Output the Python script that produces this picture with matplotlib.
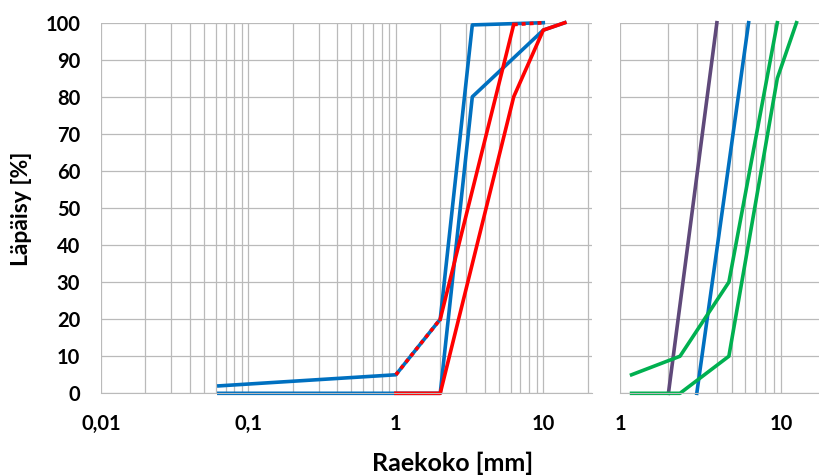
import numpy as np
import matplotlib
matplotlib.use("Agg")
import matplotlib.pyplot as plt
from matplotlib.ticker import LogLocator, FixedLocator, FixedFormatter, NullFormatter

# Rakeisuuskäyrät, vasen kuva
blue_a_x = [0.063, 1, 2, 3.3, 10]
blue_a_y = [2, 5, 20, 99.4, 100]
blue_b_x = [0.063, 1, 2, 3.3, 10, 14]
blue_b_y = [0, 0, 0, 80, 98, 100]
red_a_x = [1, 2, 6.3, 10]
red_a_y = [5, 20, 99.5, 100]
red_b_x = [1, 2, 6.3, 10, 14]
red_b_y = [0, 0, 80, 98, 100]

# Oikea kuva
purple_x = [2, 4]
purple_y = [0, 100]
blue_c_x = [3, 6.3]
blue_c_y = [0, 100]
green_a_x = [1.18, 2.36, 4.75, 9.5]
green_a_y = [5, 10, 30, 100]
green_b_x = [1.18, 2.36, 4.75, 9.5, 12.5]
green_b_y = [0, 0, 10, 85, 100]

left_ticks = [0.01, 0.1, 1, 10]
left_labels = ['0,01', '0,1', '1', '10']
right_ticks = [1, 10]
right_labels = ['1', '10']
y_ticks = list(range(0, 101, 10))

BLUE = '#0070C0'
RED = '#FF0000'
GREEN = '#00B050'
PURPLE = '#5F497A'
GRID = '#BABABA'
LW = 2.6

plt.rcParams['font.family'] = ['Lato', 'DejaVu Sans']

fig = plt.figure(figsize=(8.2, 4.75), dpi=100)
ax1 = fig.add_axes([101/820, 1-393.3/475, (591.7-101)/820, (393.3-22.7)/475])
ax2 = fig.add_axes([620/820, 1-393.3/475, 200/820, (393.3-22.7)/475])


def style(ax, xmin, xmax, ticks, labels):
    ax.set_xscale('log')
    ax.set_xlim(xmin, xmax)
    ax.set_ylim(0, 100)
    ax.xaxis.set_major_locator(FixedLocator(ticks))
    ax.xaxis.set_major_formatter(FixedFormatter(labels))
    ax.xaxis.set_minor_locator(LogLocator(base=10, subs=np.arange(2, 10)))
    ax.xaxis.set_minor_formatter(NullFormatter())
    ax.set_yticks(y_ticks)
    ax.grid(True, which='both', color=GRID, lw=0.9)
    ax.set_axisbelow(True)
    for s in ax.spines.values():
        s.set_visible(False)
    ax.spines['bottom'].set_visible(True)
    ax.spines['bottom'].set_color(GRID)
    ax.tick_params(which='both', length=0, pad=15)
    for t in ax.get_xticklabels() + ax.get_yticklabels():
        t.set_fontweight('bold')
        t.set_fontsize(14.5)


style(ax1, 0.01, 21.3, left_ticks, left_labels)
style(ax2, 1, 17.5, right_ticks, right_labels)
ax2.set_yticklabels([])

ax1.plot(blue_a_x, blue_a_y, color=BLUE, lw=LW, clip_on=False)
ax1.plot(blue_b_x, blue_b_y, color=BLUE, lw=LW, clip_on=False)
ax1.plot(red_b_x, red_b_y, color=RED, lw=LW, clip_on=False)
ax1.plot(red_a_x[1:3], red_a_y[1:3], color=RED, lw=LW, clip_on=False)
# päällekkäiset osuudet näkyvät katkoviivana
ax1.plot(red_a_x[:2], red_a_y[:2], color=RED, lw=LW, ls=(0, (1.1, 1.1)), clip_on=False)
ax1.plot(red_a_x[2:], red_a_y[2:], color=RED, lw=LW, ls=(0, (1.1, 1.1)), clip_on=False)

ax2.plot(purple_x, purple_y, color=PURPLE, lw=LW, clip_on=False)
ax2.plot(blue_c_x, blue_c_y, color=BLUE, lw=LW, clip_on=False)
ax2.plot(green_a_x, green_a_y, color=GREEN, lw=LW, clip_on=False)
ax2.plot(green_b_x, green_b_y, color=GREEN, lw=LW, clip_on=False)

fig.text(22/820, 1-209/475, 'Läpäisy [%]', rotation=90, fontsize=16.5,
         fontweight='bold', ha='center', va='center')
fig.text(453/820, 1-463/475, 'Raekoko [mm]', fontsize=18,
         fontweight='bold', ha='center', va='center')

fig.savefig('out.png', dpi=100)
